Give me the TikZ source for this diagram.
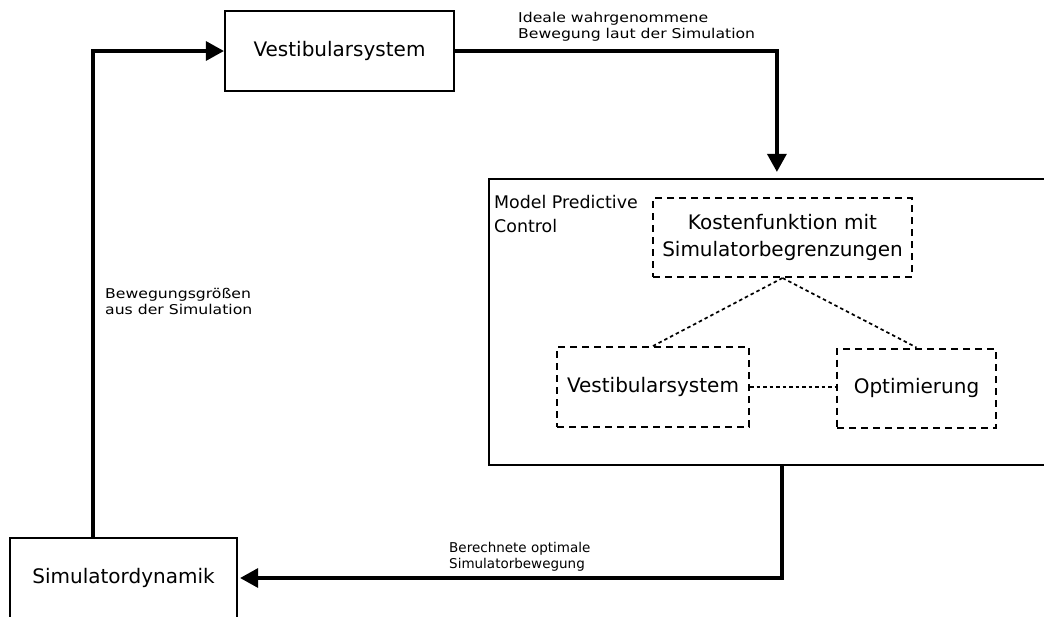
\documentclass[tikz,border=0pt]{standalone}
\usepackage{fontspec}
\setmainfont{DejaVu Sans}
\newfontfamily\widesans[FakeStretch=1.16]{DejaVu Sans}
\usetikzlibrary{arrows.meta,calc}

\tikzset{
  block/.style={draw, line width=2.2pt, inner sep=0pt, align=center,
    font=\fontsize{20}{27}\selectfont},
  subblock/.style={draw, line width=2pt, dash pattern=on 7pt off 5pt,
    inner sep=0pt, align=center, font=\fontsize{20}{27}\selectfont},
  flow/.style={line width=3.3pt, -{Triangle[length=18pt,width=19pt]}},
  link/.style={line width=1.7pt, dash pattern=on 3.5pt off 3pt},
  smalllabel/.style={anchor=base west, inner sep=0pt, align=left,
    font=\fontsize{13.5}{15.8}\selectfont},
  widelabel/.style={smalllabel, font=\widesans\fontsize{13.5}{15.6}\selectfont},
}

\begin{document}
\begin{tikzpicture}[x=1pt,y=-1pt]
\useasboundingbox (0,0) rectangle (1044,616);

% main loop blocks
\node[block, minimum width=229pt, minimum height=80pt] (vs) at (339.5,51) {Vestibularsystem};
\node[block, minimum width=227pt, minimum height=80pt] (sim) at (123.5,578) {Simulatordynamik};

% MPC container
\node[draw, line width=2.2pt, minimum width=557pt, minimum height=286pt, inner sep=0pt] (mpc) at (767.5,322) {};
\node[anchor=base west, inner sep=0pt, align=left, font=\fontsize{17.4}{24}\selectfont]
  (mpclabel) at (494,232) {Model Predictive\\Control};

% MPC internals
\node[subblock, minimum width=259pt, minimum height=79pt] (cost) at (782.5,237.5) {Kostenfunktion mit\\Simulatorbegrenzungen};
\node[subblock, minimum width=192pt, minimum height=80pt] (vs2) at (653,387) {Vestibularsystem};
\node[subblock, minimum width=159pt, minimum height=79pt] (opt) at (916.5,388) {Optimierung};

\draw[link] (cost.south) -- (vs2.north);
\draw[link] (cost.south) -- (opt.north);
\draw[link] (vs2.east) -- (vs2.east -| opt.west);

% connection points on the MPC frame
\coordinate (mpcin) at ([xshift=289pt]mpc.north west);
\coordinate (mpcout) at ([xshift=294pt]mpc.south west);

% signal flow
\draw[flow, shorten >=6pt] (vs.east) -| (mpcin);
\draw[flow, shorten >=2pt] (mpcout) |- (sim.east);
\draw[flow] (sim.north -| 93,0) |- (vs.west);

% signal labels
\node[widelabel] (l1) at (518,38.3) {Ideale wahrgenommene\\Bewegung laut der Simulation};
\node[widelabel] (l2) at (105,314) {Bewegungsgrößen\\aus der Simulation};
\node[smalllabel] (l3) at (449,568) {Berechnete optimale\\Simulatorbewegung};
\end{tikzpicture}
\end{document}
